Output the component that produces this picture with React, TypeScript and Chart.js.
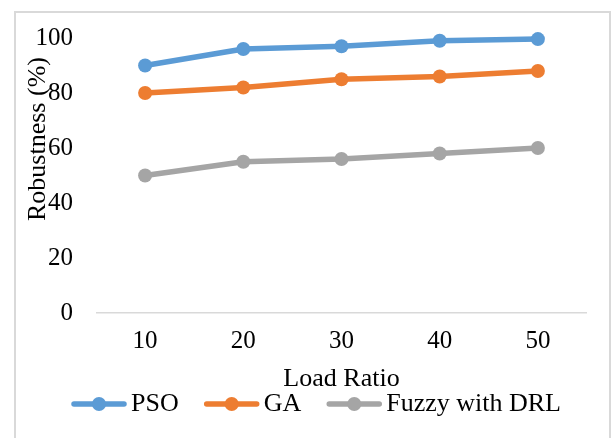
import React, { useEffect, useRef } from "react";
import { Chart, registerables } from "chart.js";

Chart.register(...registerables);

const categories = ["10", "20", "30", "40", "50"];
const psoValues = [90, 96, 97, 99, 99.6];
const gaValues = [80, 82, 85, 86, 88];
const fuzzyValues = [50, 55, 56, 58, 60];
const seriesNames = ["PSO", "GA", "Fuzzy with DRL"];
const seriesColors = ["#5B9BD5", "#ED7D31", "#A5A5A5"];
const xTitle = "Load Ratio";
const yTitle = "Robustness (%)";

const FONT = "'Liberation Serif', 'Times New Roman', serif";

const overlayPlugin = {
  id: "overlay",
  afterDraw(chart: any) {
    const ctx = chart.ctx as CanvasRenderingContext2D;
    // Y title (overlaps ticks as in the reference)
    ctx.save();
    ctx.fillStyle = "#000";
    ctx.font = `26px ${FONT}`;
    ctx.textAlign = "center";
    ctx.textBaseline = "middle";
    ctx.translate(38, 139);
    ctx.rotate(-Math.PI / 2);
    ctx.fillText(yTitle, 0, 0);
    ctx.restore();

    // Legend
    ctx.save();
    ctx.font = `26px ${FONT}`;
    const markerW = 56;
    const gapText = 4;
    const gapItem = 25;
    const ds = chart.data.datasets;
    const widths = ds.map((d: any) => ctx.measureText(d.label).width);
    let total = 0;
    widths.forEach((w: number, i: number) => {
      total += markerW + gapText + w + (i < widths.length - 1 ? gapItem : 0);
    });
    let x = 316 - total / 2;
    const y = 404;
    ds.forEach((d: any, i: number) => {
      ctx.strokeStyle = d.borderColor;
      ctx.lineWidth = 5.5;
      ctx.lineCap = "round";
      ctx.beginPath();
      ctx.moveTo(x + 3, y);
      ctx.lineTo(x + markerW - 3, y);
      ctx.stroke();
      ctx.fillStyle = d.borderColor;
      ctx.beginPath();
      ctx.arc(x + markerW / 2, y, 7, 0, Math.PI * 2);
      ctx.fill();
      ctx.fillStyle = "#000";
      ctx.textAlign = "left";
      ctx.textBaseline = "middle";
      ctx.fillText(d.label, x + markerW + gapText, y);
      x += markerW + gapText + widths[i] + gapItem;
    });
    ctx.restore();
  },
};

export default function App() {
  const ref = useRef<HTMLCanvasElement | null>(null);
  useEffect(() => {
    if (!ref.current) return;
    const values = [psoValues, gaValues, fuzzyValues];
    const chart = new Chart(ref.current, {
      type: "line",
      data: {
        labels: categories,
        datasets: values.map((v, i) => ({
          label: seriesNames[i],
          data: v,
          borderColor: seriesColors[i],
          backgroundColor: seriesColors[i],
          pointBackgroundColor: seriesColors[i],
          pointBorderWidth: 0,
          pointRadius: 7,
          borderWidth: 5.5,
          borderCapStyle: "round",
          borderJoinStyle: "round",
          tension: 0,
          clip: false,
        })),
      },
      options: {
        animation: false,
        responsive: false,
        layout: { padding: { top: 35, right: 26, left: 0, bottom: 0 } },
        plugins: {
          legend: { display: false },
          tooltip: { enabled: false },
        },
        scales: {
          x: {
            type: "category",
            offset: true,
            grid: { display: false, drawTicks: false },
            border: { display: false },
            ticks: {
              padding: 13,
              color: "#000",
              font: { family: FONT, size: 25 },
            },
            title: {
              display: true,
              text: xTitle,
              color: "#000",
              font: { family: FONT, size: 26 },
              padding: { top: 0, bottom: 43 },
            },
            afterFit: (scale: any) => {
              scale.height = 125;
            },
          },
          y: {
            min: 0,
            max: 100,
            grid: {
              drawTicks: false,
              lineWidth: 1.5,
              color: (c: any) => (c.tick && c.tick.value === 0 ? "#d9d9d9" : "rgba(0,0,0,0)"),
            },
            border: { display: false },
            ticks: {
              stepSize: 20,
              padding: 23,
              color: "#000",
              font: { family: FONT, size: 25 },
            },
            afterFit: (scale: any) => {
              scale.width = 96;
            },
          },
        },
      },
      plugins: [overlayPlugin],
    });
    return () => chart.destroy();
  }, []);

  return (
    <div style={{ position: "absolute", left: 0, top: 0, width: 613, height: 438, overflow: "hidden", background: "#fff" }}>
      <div
        style={{
          position: "absolute",
          left: 14,
          top: 11,
          width: 597,
          height: 440,
          border: "2px solid #d9d9d9",
          boxSizing: "border-box",
        }}
      />
      <canvas ref={ref} width={613} height={438} style={{ position: "absolute", left: 0, top: 0, width: 613, height: 438 }} />
    </div>
  );
}
